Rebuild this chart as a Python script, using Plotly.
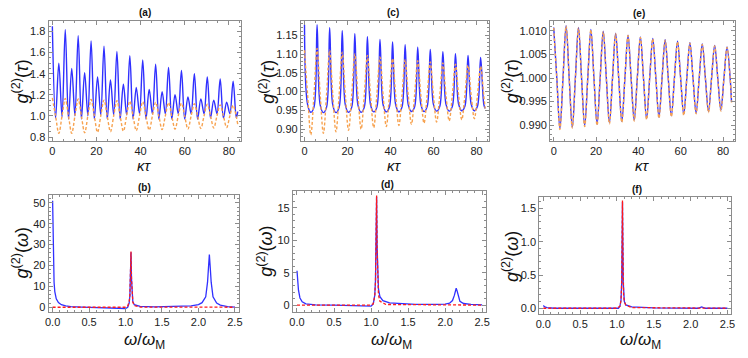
import plotly.graph_objects as go

# the page body keeps its default 8px margin, so the figure is drawn 8px in
# from the top-left corner; positions below are reference pixels
W, H = 748, 358
OFF = 8
FW, FH = W - OFF, H - OFF

# ---- top row: g2(tau) vs kappa*tau (values read at ~quarter-period steps) ----
kt = [0, 1.46, 2.93, 4.39, 5.85, 7.31, 8.78, 10.24, 11.70, 13.16, 14.63, 16.09,
      17.55, 19.01, 20.48, 21.94, 23.40, 24.86, 26.33, 27.79, 29.25, 30.71, 32.18,
      33.64, 35.10, 36.56, 38.03, 39.49, 40.95, 42.41, 43.88, 45.34, 46.80, 48.26,
      49.73, 51.19, 52.65, 54.11, 55.58, 57.04, 58.50, 59.96, 61.43, 62.89, 64.35,
      65.81, 67.28, 68.74, 70.20, 71.66, 73.13, 74.59, 76.05, 77.51, 78.98, 80.44,
      81.90, 83.36, 84.00]

a_blue = [1.85, 0.98, 1.50, 0.99, 1.82, 0.97, 1.45, 1.00, 1.76, 0.97, 1.41, 1.00,
          1.71, 0.97, 1.37, 1.01, 1.66, 0.97, 1.34, 1.01, 1.61, 0.97, 1.30, 1.01,
          1.57, 0.97, 1.27, 1.02, 1.53, 0.97, 1.25, 1.02, 1.49, 0.97, 1.23, 1.02,
          1.46, 0.97, 1.20, 1.02, 1.43, 0.97, 1.18, 1.02, 1.40, 0.97, 1.16, 1.02,
          1.37, 0.98, 1.15, 1.02, 1.35, 0.98, 1.13, 1.02, 1.33, 0.98, 1.04]
a_orange = [1.17, 1.00, 0.835, 1.00, 1.165, 1.00, 0.835, 1.00, 1.16, 1.00, 0.84, 1.00,
            1.155, 1.00, 0.845, 1.00, 1.15, 1.00, 0.85, 1.00, 1.145, 1.00, 0.855, 1.00,
            1.14, 1.00, 0.86, 1.00, 1.135, 1.00, 0.865, 1.00, 1.13, 1.00, 0.87, 1.00,
            1.125, 1.00, 0.875, 1.00, 1.12, 1.00, 0.875, 1.00, 1.115, 1.00, 0.88, 1.00,
            1.11, 1.00, 0.885, 1.00, 1.105, 1.00, 0.89, 1.00, 1.10, 0.99, 0.92]

c_blue = [1.178, 0.965, 0.945, 0.958, 1.178, 0.964, 0.944, 0.958, 1.170, 0.964, 0.944, 0.958,
          1.162, 0.964, 0.945, 0.958, 1.154, 0.964, 0.945, 0.958, 1.146, 0.965, 0.946, 0.958,
          1.139, 0.965, 0.946, 0.959, 1.132, 0.965, 0.946, 0.959, 1.125, 0.965, 0.947, 0.959,
          1.118, 0.966, 0.947, 0.960, 1.112, 0.966, 0.948, 0.960, 1.106, 0.966, 0.948, 0.960,
          1.101, 0.967, 0.949, 0.961, 1.096, 0.967, 0.949, 0.961, 1.091, 0.967, 0.955]
c_orange = [1.110, 0.99, 0.885, 0.99, 1.115, 0.99, 0.889, 0.99, 1.110, 0.99, 0.893, 0.99,
            1.105, 0.99, 0.897, 0.99, 1.100, 0.99, 0.900, 0.99, 1.096, 0.99, 0.904, 0.99,
            1.092, 0.99, 0.907, 0.99, 1.088, 0.99, 0.910, 0.99, 1.085, 0.99, 0.913, 0.99,
            1.082, 0.99, 0.916, 0.99, 1.079, 0.99, 0.919, 0.99, 1.076, 0.99, 0.922, 0.99,
            1.073, 0.99, 0.925, 0.99, 1.070, 0.99, 0.928, 0.99, 1.067, 0.99, 0.955]

e_blue = [1.0107, 1.0000, 0.9893, 1.0000, 1.0111, 1.0000, 0.9896, 1.0000, 1.0107, 1.0000,
          0.9899, 1.0000, 1.0103, 1.0000, 0.9902, 1.0000, 1.0099, 1.0000, 0.9905, 1.0000,
          1.0095, 1.0000, 0.9908, 1.0000, 1.0091, 1.0000, 0.9911, 1.0000, 1.0087, 1.0000,
          0.9914, 1.0000, 1.0084, 1.0000, 0.9917, 1.0000, 1.0081, 1.0000, 0.9920, 1.0000,
          1.0078, 1.0000, 0.9923, 1.0000, 1.0075, 1.0000, 0.9926, 1.0000, 1.0072, 1.0000,
          0.9929, 1.0000, 1.0069, 1.0000, 0.9932, 1.0000, 1.0066, 1.0000, 0.9950]
e_orange = [1.0106, 1.0000, 0.9891, 1.0000, 1.0110, 1.0000, 0.9894, 1.0000, 1.0106, 1.0000,
            0.9897, 1.0000, 1.0102, 1.0000, 0.9900, 1.0000, 1.0098, 1.0000, 0.9903, 1.0000,
            1.0094, 1.0000, 0.9906, 1.0000, 1.0090, 1.0000, 0.9909, 1.0000, 1.0086, 1.0000,
            0.9912, 1.0000, 1.0083, 1.0000, 0.9915, 1.0000, 1.0080, 1.0000, 0.9918, 1.0000,
            1.0077, 1.0000, 0.9921, 1.0000, 1.0074, 1.0000, 0.9924, 1.0000, 1.0071, 1.0000,
            0.9927, 1.0000, 1.0068, 1.0000, 0.9930, 1.0000, 1.0065, 1.0000, 0.9948]

# ---- bottom row: g2(omega) vs omega/omega_M ----
b_w_blue = [0.00, 0.005, 0.01, 0.02, 0.03, 0.05, 0.08, 0.12, 0.18, 0.25, 0.40, 0.60, 0.80,
            0.95, 1.00, 1.03, 1.05, 1.06, 1.068, 1.075, 1.082, 1.09, 1.10, 1.12, 1.20, 1.40,
            1.70, 1.90, 2.00, 2.05, 2.10, 2.125, 2.138, 2.15, 2.162, 2.175, 2.20, 2.25, 2.30,
            2.40, 2.50]
b_blue = [51.0, 38.0, 24.0, 12.0, 7.5, 4.0, 2.2, 1.2, 0.6, 0.3, 0.1, -0.1, -0.3,
          -0.5, -0.6, 0.0, 2.0, 5.5, 13.5, 26.3, 13.5, 6.0, 2.8, 1.2, 0.4, 0.2,
          0.35, 0.7, 1.3, 2.2, 5.0, 12.0, 19.0, 25.3, 19.0, 12.0, 5.0, 2.0, 1.0,
          0.3, 0.1]
b_w_red = [0.00, 1.00, 1.03, 1.05, 1.06, 1.068, 1.075, 1.082, 1.09, 1.10, 1.12, 1.20, 2.50]
b_red = [0.0, 0.0, 0.6, 2.5, 6.0, 14.0, 26.7, 14.0, 6.0, 2.5, 0.8, 0.1, 0.0]

d_w_blue = [0.00, 0.01, 0.02, 0.04, 0.07, 0.12, 0.25, 0.50, 0.80, 0.95, 1.00, 1.03, 1.05,
            1.06, 1.068, 1.075, 1.082, 1.09, 1.10, 1.12, 1.16, 1.25, 1.40, 1.60, 1.90, 2.00,
            2.06, 2.10, 2.125, 2.138, 2.15, 2.162, 2.175, 2.20, 2.25, 2.35, 2.50]
d_blue = [5.3, 3.6, 2.3, 1.1, 0.5, 0.2, 0.05, 0.0, -0.1, -0.15, -0.15, 0.2, 1.5,
          3.8, 8.5, 16.7, 9.0, 4.5, 2.5, 1.3, 0.7, 0.35, 0.2, 0.1, 0.1, 0.15,
          0.3, 0.7, 1.5, 2.2, 2.6, 2.2, 1.5, 0.6, 0.25, 0.1, 0.05]
d_w_red = [0.00, 1.00, 1.03, 1.05, 1.06, 1.068, 1.075, 1.082, 1.09, 1.10, 1.12, 1.20, 2.50]
d_red = [0.0, 0.0, 0.2, 1.4, 3.6, 8.5, 16.9, 8.5, 3.6, 1.6, 0.6, 0.1, 0.0]

f_w_blue = [0.00, 0.02, 0.05, 0.15, 0.60, 0.95, 1.02, 1.04, 1.055, 1.065, 1.07, 1.075,
            1.08, 1.085, 1.09, 1.10, 1.12, 1.20, 1.50, 2.10, 2.15, 2.20, 2.50]
f_blue = [0.04, 0.02, 0.01, 0.0, 0.0, -0.005, 0.0, 0.03, 0.12, 0.4, 1.0, 1.6,
          1.0, 0.4, 0.2, 0.1, 0.05, 0.02, 0.005, 0.0, 0.02, 0.0, 0.0]
f_w_red = [0.00, 1.00, 1.04, 1.055, 1.065, 1.07, 1.075, 1.08, 1.085, 1.09, 1.10, 1.12, 1.20, 2.50]
f_red = [0.0, 0.0, 0.03, 0.12, 0.4, 1.0, 1.62, 1.0, 0.4, 0.2, 0.1, 0.05, 0.01, 0.0]

BLUE = "#3030ff"
ORANGE = "#f7a24f"
RED = "#ff1a1a"
FRAME = "#8c8c8c"
FONT = "Liberation Sans, Arial, sans-serif"


def px_x(a, b):
    return [(a - OFF) / FW, (b - OFF) / FW]


def px_y(top, bottom):
    return [1 - (bottom - OFF) / FH, 1 - (top - OFF) / FH]


def _frame(fig, i, xdom, ydom, xr, yr, xdt, ydt, xmin, ymin, xfmt, yfmt):
    sx = "" if i == 1 else str(i)
    tick = dict(size=11, color="#222", family=FONT)
    fig.layout["xaxis" + sx] = dict(
        domain=xdom, range=xr, anchor="y" + sx, dtick=xdt, tick0=0, tickformat=xfmt,
        showline=True, linecolor=FRAME, linewidth=1, mirror="ticks", ticks="inside",
        ticklen=4, tickcolor=FRAME, showgrid=False, zeroline=False, tickfont=tick,
        minor=dict(ticks="inside", ticklen=2, dtick=xmin, tickcolor=FRAME, showgrid=False))
    fig.layout["yaxis" + sx] = dict(
        domain=ydom, range=yr, anchor="x" + sx, dtick=ydt, tick0=0, tickformat=yfmt,
        showline=True, linecolor=FRAME, linewidth=1, mirror="ticks", ticks="inside",
        ticklen=4, tickcolor=FRAME, showgrid=False, zeroline=False, tickfont=tick,
        minor=dict(ticks="inside", ticklen=2, dtick=ymin, tickcolor=FRAME, showgrid=False))


fig = go.Figure()

# top row
for i, (blue, orange) in enumerate([(a_blue, a_orange), (c_blue, c_orange), (e_blue, e_orange)]):
    sx = "" if i == 0 else str(i + 1)
    fig.add_scatter(x=kt, y=blue, mode="lines", xaxis="x" + sx, yaxis="y" + sx,
                    line=dict(color=BLUE, width=1.4, shape="spline"), showlegend=False)
    fig.add_scatter(x=kt, y=orange, mode="lines", xaxis="x" + sx, yaxis="y" + sx,
                    line=dict(color=ORANGE, width=1.4, shape="spline", dash="3px,2px"),
                    showlegend=False)

# bottom row
for i, (wb, yb, wr, yr) in enumerate([(b_w_blue, b_blue, b_w_red, b_red),
                                       (d_w_blue, d_blue, d_w_red, d_red),
                                       (f_w_blue, f_blue, f_w_red, f_red)]):
    sx = str(i + 4)
    fig.add_scatter(x=wb, y=yb, mode="lines", xaxis="x" + sx, yaxis="y" + sx,
                    line=dict(color=BLUE, width=1.3), showlegend=False)
    fig.add_scatter(x=wr, y=yr, mode="lines", xaxis="x" + sx, yaxis="y" + sx,
                    line=dict(color=RED, width=1.3, dash="3px,2px"), showlegend=False)

XT = [-1.7, 85.7]
XW = [-0.055, 2.55]
_frame(fig, 1, px_x(45, 240), px_y(21, 142), XT, [0.76, 1.90], 20, 0.2, 5, 0.05, "d", ".1f")
_frame(fig, 2, px_x(300, 490), px_y(21, 142), XT, [0.868, 1.188], 20, 0.05, 5, 0.01, "d", ".2f")
_frame(fig, 3, px_x(552, 739), px_y(21, 142), XT, [0.9866, 1.0121], 20, 0.005, 5, 0.001, "d", ".3f")
_frame(fig, 4, px_x(45, 237), px_y(196, 314), XW, [-2.4, 53.8], 0.5, 10, 0.1, 2, ".1f", "d")
_frame(fig, 5, px_x(292, 487), px_y(192, 314), XW, [-1.1, 17.6], 0.5, 5, 0.1, 1, ".1f", "d")
_frame(fig, 6, px_x(541, 735), px_y(198, 316), XW, [-0.09, 1.675], 0.5, 0.5, 0.1, 0.1, ".1f", ".1f")

ann = []


def _text(x, y, s, size, angle=0):
    ann.append(dict(x=(x - OFF) / FW, y=1 - (y - OFF) / FH, xref="paper", yref="paper",
                    text=s, showarrow=False, textangle=angle, xanchor="center",
                    yanchor="middle", font=dict(size=size, color="#111", family=FONT)))


# panel labels
for x, y, s in [(142, 13, "(a)"), (393, 13, "(c)"), (642, 14, "(e)"),
                (142, 189, "(b)"), (388, 186, "(d)"), (640, 191, "(f)")]:
    _text(x, y, "<b>" + s + "</b>", 10)

# axis titles
gt = "<i>g</i><sup>(2)</sup>(<i>τ</i>)"
gw = "<i>g</i><sup>(2)</sup>(<i>ω</i>)"
for x, y in [(17, 82), (266, 82), (512, 82)]:
    _text(x, y, gt, 18, angle=-90)
for x, y in [(17, 254), (264, 253), (512, 258)]:
    _text(x, y, gw, 18, angle=-90)
for x in (142, 395, 645):
    _text(x, 166, "<i>κτ</i>", 15)
for x in (142, 392, 643):
    _text(x, 343, "<i>ω</i>/<i>ω</i><sub>M</sub>", 17)

fig.update_layout(width=FW, height=FH, margin=dict(l=0, r=0, t=0, b=0),
                  paper_bgcolor="white", plot_bgcolor="white", annotations=ann,
                  font=dict(family=FONT))

fig.write_html("out.html")
